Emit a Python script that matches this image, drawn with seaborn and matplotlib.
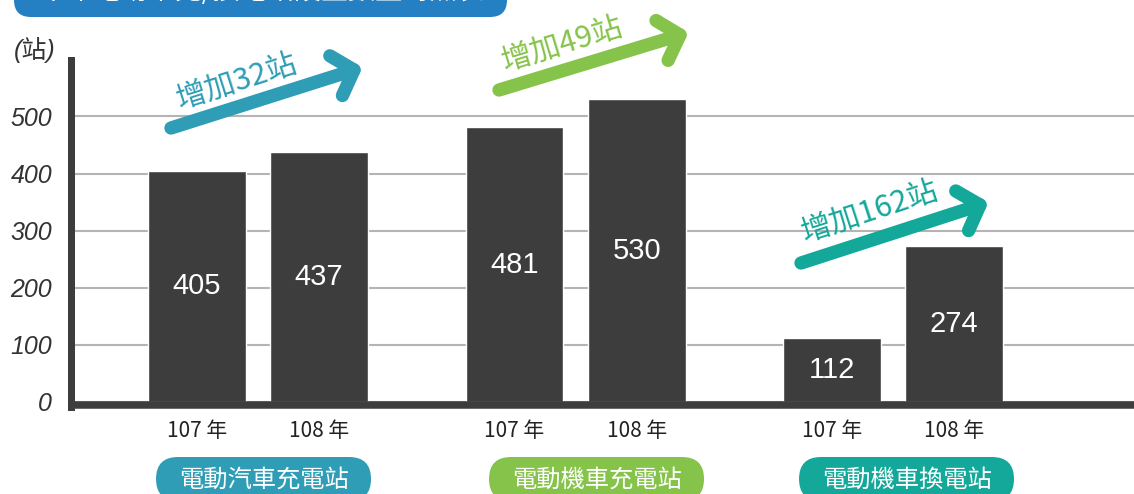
import numpy as np
import pandas as pd
import matplotlib
matplotlib.use("Agg")
import matplotlib.pyplot as plt
from matplotlib.patches import FancyBboxPatch
from matplotlib.lines import Line2D
import seaborn as sns

# ---- data -------------------------------------------------------------
categories = ["電動汽車充電站", "電動機車充電站", "電動機車換電站"]
years = ["107 年", "108 年"]
counts_107 = [405, 481, 112]
counts_108 = [437, 530, 274]
increase_labels = ["增加32站", "增加49站", "增加162站"]
y_ticks = [0, 100, 200, 300, 400, 500]
unit_label = "(站)"
title = "半年電動車充/換電站設置數量對照表"

# ---- style ------------------------------------------------------------
accent_colors = ["#2f9db5", "#86c34a", "#14a89a"]
bar_color = "#3d3d3d"
title_color = "#2580c3"

W, H, DPI = 1134, 494, 100

sns.set_theme(style="white")
plt.rcParams["font.family"] = ["Noto Sans CJK TC", "DejaVu Sans"]

df = pd.DataFrame({
    "station": categories * 2,
    "year": [years[0]] * len(categories) + [years[1]] * len(categories),
    "count": counts_107 + counts_108,
})

fig = plt.figure(figsize=(W / DPI, H / DPI), dpi=DPI)
inch = fig.dpi_scale_trans


def px(x, y):
    """Pixel position measured from the top-left corner -> inches."""
    return (x / DPI, (H - y) / DPI)


ax = fig.add_axes([70.5 / W, (H - 407) / H, 1 - 70.5 / W, (407 - 60) / H])
sns.barplot(data=df, x="station", y="count", hue="year",
            palette=[bar_color, bar_color], saturation=1,
            width=0.77, gap=0.2, legend=False, ax=ax, zorder=2)

ax.set_xlim(-0.5906, 2.759)
ax.set_ylim(-8.76, 598.9)

# value labels inside the bars
for cont in ax.containers:
    ax.bar_label(cont, label_type="center", color="white", fontsize=21,
                 family=["Liberation Sans", "DejaVu Sans"])

# y axis
ax.set_yticks(y_ticks)
ax.set_yticklabels([str(v) for v in y_ticks], fontstyle="italic",
                   family=["Liberation Sans", "DejaVu Sans"],
                   fontsize=18, color="#333333")
ax.tick_params(axis="y", length=0, pad=13.3)

# x axis: one label per bar
bars = sorted(ax.patches, key=lambda p: p.get_x())
centers = [p.get_x() + p.get_width() / 2 for p in bars]
ax.set_xticks(centers)
ax.set_xticklabels(years * len(categories), fontsize=15, color="#222222")
ax.tick_params(axis="x", length=0, pad=9)
ax.set_xlabel("")
ax.set_ylabel("")

sns.despine(ax=ax, bottom=True)
ax.spines["left"].set_linewidth(5.04)
ax.spines["left"].set_color(bar_color)
ax.spines["left"].set_zorder(4)

ax.yaxis.grid(True, color="#b4b4b4", linewidth=1.5)
ax.set_axisbelow(True)
ax.axhline(-4.5, color=bar_color, lw=5.4, zorder=3, clip_on=False,
           solid_capstyle="butt")

# unit label
fig.text(*px(35, 50), unit_label, transform=inch, ha="center", va="center",
         fontsize=18, fontstyle="italic", color="#333333",
         family=["Liberation Sans", "Noto Sans CJK TC"])

# title tab at the top-left (only its lower edge lies inside the canvas)
tab = FancyBboxPatch(px(14, 17), (507 - 14) / DPI, 0.6,
                     boxstyle="round,pad=0,rounding_size=0.17",
                     transform=inch, facecolor=title_color, edgecolor="none")
fig.add_artist(tab)
fig.text(*px(262, 5), title, transform=inch, ha="center", va="bottom",
         fontsize=19.5, color="white")

# category pills under each pair of bars
pill_shift = [5.5, 21, 13.5]
for i, (name, col) in enumerate(zip(categories, accent_colors)):
    gx = ax.transData.transform((i, 0))[0] + pill_shift[i]
    pill = FancyBboxPatch(px(gx - 107.5, 501), 215 / DPI, 44 / DPI,
                          boxstyle="round,pad=0,rounding_size=0.22",
                          transform=inch, facecolor=col, edgecolor="none")
    fig.add_artist(pill)
    fig.text(*px(gx, 480), name, transform=inch, ha="center", va="center",
             fontsize=17.5, color="white")

# growth arrows with their captions
arrow_layout = [((171, 128), (354, 70)),
                ((499, 90), (680, 35)),
                ((801, 263), (980, 205))]
caption_layout = [(237, 83), (563, 45), (870, 213)]
for (tail, tip), (cx, cy), text, col in zip(arrow_layout, caption_layout,
                                            increase_labels, accent_colors):
    tail = np.array(tail, float)
    tip = np.array(tip, float)
    back = (tail - tip) / np.linalg.norm(tail - tip)
    arms = []
    for sgn in (1, -1):
        a = np.deg2rad(48 * sgn)
        rot = np.array([[np.cos(a), -np.sin(a)], [np.sin(a), np.cos(a)]])
        arms.append(tip + 28 * rot @ back)
    for pts in ([tail, tip], [arms[0], tip, arms[1]]):
        xy = np.array([px(*p) for p in pts])
        fig.add_artist(Line2D(xy[:, 0], xy[:, 1], transform=inch, color=col,
                              lw=9.6, solid_capstyle="round",
                              solid_joinstyle="round"))
    angle = np.degrees(np.arctan2(tail[1] - tip[1], tip[0] - tail[0]))
    fig.text(*px(cx, cy), text, transform=inch, rotation=angle,
             rotation_mode="anchor", ha="center", va="center",
             fontsize=22, fontweight="medium", color=col)

fig.savefig("out.png", dpi=DPI)
